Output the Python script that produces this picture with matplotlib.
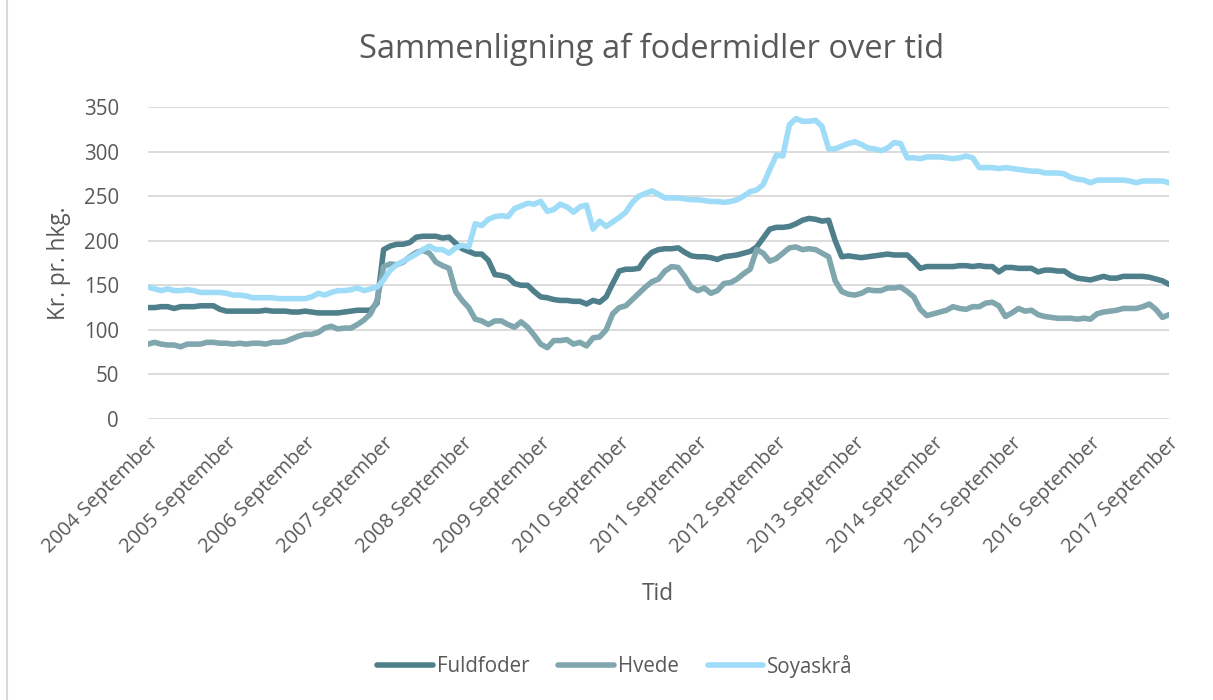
import matplotlib
matplotlib.use("Agg")
import matplotlib.pyplot as plt
from matplotlib.lines import Line2D

plt.rcParams['font.family'] = ['Open Sans', 'DejaVu Sans']

series_names = ["Fuldfoder", "Hvede", "Soyaskrå"]

fuldfoder = [
    125, 125, 126, 126, 124, 126, 126, 126, 127, 127, 127, 123,
    121, 121, 121, 121, 121, 121, 122, 121, 121, 121, 120, 120,
    121, 120, 119, 119, 119, 119, 120, 121, 122, 122, 122, 130,
    190, 194, 196, 196, 198, 204, 205, 205, 205, 203, 204, 197,
    191, 188, 185, 185, 178, 162, 161, 159, 152, 150, 150, 143,
    137, 136, 134, 133, 133, 132, 132, 129, 133, 131, 137, 152,
    166, 168, 168, 169, 180, 187, 190, 191, 191, 192, 187, 183,
    182, 182, 181, 179, 182, 183, 184, 186, 188, 193, 203, 213,
    215, 215, 216, 219, 223, 225, 224, 222, 223, 200, 182, 183,
    182, 181, 182, 183, 184, 185, 184, 184, 184, 177, 169, 171,
    171, 171, 171, 171, 172, 172, 171, 172, 171, 171, 165, 170,
    170, 169, 169, 169, 165, 167, 167, 166, 166, 161, 158, 157,
    156, 158, 160, 158, 158, 160, 160, 160, 160, 159, 157, 155,
    151,
]

hvede = [
    84, 86, 84, 83, 83, 81, 84, 84, 84, 86, 86, 85,
    85, 84, 85, 84, 85, 85, 84, 86, 86, 87, 90, 93,
    95, 95, 97, 102, 104, 101, 102, 102, 106, 111, 118, 133,
    171, 174, 173, 176, 182, 187, 189, 186, 176, 172, 169, 143,
    133, 125, 112, 110, 106, 110, 110, 106, 103, 109, 103, 94,
    84, 80, 88, 88, 89, 84, 86, 82, 91, 92, 100, 118,
    125, 127, 134, 141, 148, 154, 157, 166, 171, 170, 160, 148,
    144, 147, 141, 144, 152, 153, 157, 163, 168, 190, 186, 177,
    180, 186, 192, 193, 190, 191, 190, 186, 182, 155, 143, 140,
    139, 141, 145, 144, 144, 147, 147, 148, 143, 137, 123, 116,
    118, 120, 122, 126, 124, 123, 126, 126, 130, 131, 127, 115,
    119, 124, 121, 122, 117, 115, 114, 113, 113, 113, 112, 113,
    112, 118, 120, 121, 122, 124, 124, 124, 126, 129, 123, 114,
    117,
]

soyaskraa = [
    148, 146, 144, 146, 144, 144, 145, 144, 142, 142, 142, 142,
    141, 139, 139, 138, 136, 136, 136, 136, 135, 135, 135, 135,
    135, 137, 141, 139, 142, 144, 144, 145, 147, 144, 146, 148,
    156, 167, 173, 177, 181, 185, 190, 194, 190, 190, 186, 192,
    195, 193, 219, 217, 224, 227, 228, 227, 236, 239, 242, 241,
    244, 233, 235, 241, 238, 232, 238, 240, 213, 222, 216, 221,
    226, 232, 243, 250, 253, 256, 252, 248, 248, 248, 247, 246,
    246, 245, 244, 244, 243, 244, 246, 250, 255, 257, 263, 280,
    296, 295, 330, 337, 334, 334, 335, 328, 303, 303, 306, 309,
    311, 308, 304, 303, 301, 304, 310, 309, 293, 293, 292, 294,
    294, 294, 293, 292, 293, 295, 293, 282, 282, 282, 281, 282,
    281, 280, 279, 278, 278, 276, 276, 276, 275, 271, 269, 268,
    265, 268, 268, 268, 268, 268, 267, 265, 267, 267, 267, 267,
    265,
]

tick_labels = [f"{y} September" for y in range(2004, 2018)]
y_ticks = [0, 50, 100, 150, 200, 250, 300, 350]

colors = ["#4f7f8b", "#80a6ae", "#9edcf8"]
text_color = "#595959"

W, H = 1213, 700
fig = plt.figure(figsize=(W / 100, H / 100), dpi=100)
ax = fig.add_axes([148 / W, 1 - 419 / H, (1169 - 148) / W, (419 - 107) / H])

x = list(range(len(fuldfoder)))
for name, vals, c in zip(series_names, [fuldfoder, hvede, soyaskraa], colors):
    ax.plot(x, vals, color=c, lw=4.0, label=name, solid_capstyle='round',
            solid_joinstyle='round')

ax.set_xlim(0, len(fuldfoder) - 1)
ax.set_ylim(0, 350)
ax.set_yticks(y_ticks)
ax.set_xticks(list(range(0, len(fuldfoder), 12)))
ax.set_xticklabels(tick_labels, rotation=45, ha='right', va='top',
                   rotation_mode='anchor', fontsize=14.5, color=text_color)
ax.tick_params(axis='x', length=0, pad=10)
ax.tick_params(axis='y', length=0, pad=21, labelsize=14.8, labelcolor=text_color)
ax.grid(axis='y', color='#d9d9d9', lw=1.3)
ax.set_axisbelow(True)
for s in ax.spines.values():
    s.set_visible(False)

fig.text(652 / W, 1 - 49 / H, "Sammenligning af fodermidler over tid",
         ha='center', va='center', fontsize=23.5, color=text_color)
fig.text(59 / W, 1 - 263 / H, "Kr. pr. hkg.", rotation=90, ha='center',
         va='center', fontsize=16.3, color=text_color)
fig.text(658 / W, 1 - 594 / H, "Tid", ha='center', va='center',
         fontsize=16.3, color=text_color)

leg = fig.legend(loc='center', bbox_to_anchor=(615 / W, 1 - 666 / H),
                 ncol=3, frameon=False, fontsize=14.8, handlelength=2.7,
                 handletextpad=0.2, columnspacing=1.4)
for t in leg.get_texts():
    t.set_color(text_color)

fig.add_artist(Line2D([7 / W, 7 / W], [0, 1], color='#d9d9d9', lw=1.5,
                      transform=fig.transFigure))

fig.savefig("out.png", dpi=100)
